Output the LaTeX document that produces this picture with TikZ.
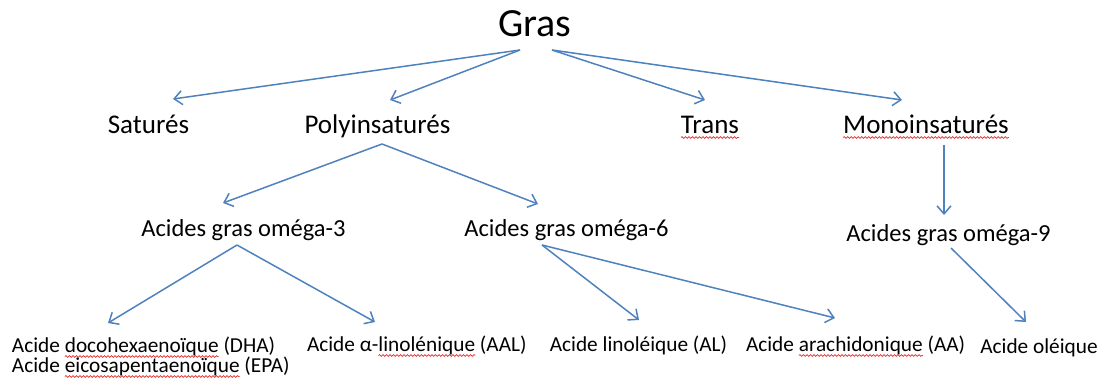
\documentclass[tikz,border=0pt]{standalone}
\usepackage{fontspec}
\setmainfont{Carlito}
\usetikzlibrary{arrows.meta,decorations.pathmorphing}
\definecolor{arrowblue}{RGB}{79,129,189}
\definecolor{squigred}{RGB}{225,45,45}
\tikzset{
  lbl/.style={inner sep=0pt,outer sep=0pt,anchor=base},
  toplbl/.style={lbl,font=\fontsize{40}{44}\selectfont},
  lone/.style={lbl,font=\fontsize{27}{30}\selectfont},
  ltwo/.style={lbl,font=\fontsize{24.5}{28}\selectfont},
  lthree/.style={lbl,font=\fontsize{21.3}{24}\selectfont},
  link/.style={draw=arrowblue,line width=1.5pt,-{Straight Barb[length=8pt,width=14pt]}},
  squig/.style={draw=squigred,line width=0.7pt,decorate,decoration={snake,amplitude=0.9pt,segment length=3.5pt}}
}
\begin{document}
\begin{tikzpicture}[x=1pt,y=-1pt]
\useasboundingbox (0,0) rectangle (1103,383);
% level 0
\node[toplbl] (gras) at (535,36) {Gras};
% level 1
\node[lone] (sat) at (148.5,133) {Saturés};
\node[lone] (poly) at (377.5,133) {Polyinsaturés};
\node[lone] (trans) at (710,133) {Trans};
\node[lone] (mono) at (926,133) {Monoinsaturés};
% level 2
\node[ltwo] (o3) at (243.5,236) {Acides gras oméga-3};
\node[ltwo] (o6) at (566.5,236) {Acides gras oméga-6};
\node[ltwo] (o9) at (948.5,241) {Acides gras oméga-9};
% level 3
\node[lthree,anchor=base west] (dhaA) at (12,352) {Acide\ \mbox{}};
\node[lthree,anchor=base west] (dhaB) at (dhaA.base east) {docohexaenoïque};
\node[lthree,anchor=base west] (dhaC) at (dhaB.base east) {\ (DHA)};
\node[lthree,anchor=base west] (epaA) at (12,372) {Acide\ \mbox{}};
\node[lthree,anchor=base west] (epaB) at (epaA.base east) {eicosapentaenoïque};
\node[lthree,anchor=base west] (epaC) at (epaB.base east) {\ (EPA)};
\node[lthree,anchor=base west] (aalA) at (307,351) {Acide α-};
\node[lthree,anchor=base west] (aalB) at (aalA.base east) {linolénique};
\node[lthree,anchor=base west] (aalC) at (aalB.base east) {\ (AAL)};
\node[lthree] (al) at (638.5,351) {Acide linoléique (AL)};
\node[lthree,anchor=base west] (aaA) at (746,351) {Acide\ \mbox{}};
\node[lthree,anchor=base west] (aaB) at (aaA.base east) {arachidonique};
\node[lthree,anchor=base west] (aaC) at (aaB.base east) {\ (AA)};
\node[lthree] (ol) at (1039,353) {Acide oléique};
% spell-check underlines
\foreach \n in {trans,mono,dhaB,epaB,aalB,aaB}
  \draw[squig] ([shift={(0,4.5)}]\n.base west) -- ([shift={(0,4.5)}]\n.base east);
% connectors
\draw[link] ([shift={(-15,14)}]gras.base) -- ([shift={(24.5,-34)}]sat.base);
\draw[link] ([shift={(-15,14)}]gras.base) -- ([shift={(12.5,-33)}]poly.base);
\draw[link] ([shift={(17,14)}]gras.base) -- ([shift={(-5,-33)}]trans.base);
\draw[link] ([shift={(17,14)}]gras.base) -- ([shift={(-24,-33)}]mono.base);
\draw[link] ([shift={(4.5,11)}]poly.base) -- ([shift={(-20.5,-33)}]o3.base);
\draw[link] ([shift={(4.5,11)}]poly.base) -- ([shift={(-28.5,-32)}]o6.base);
\draw[link] ([shift={(18,12)}]mono.base) -- ([shift={(-4.5,-26)}]o9.base);
\draw[link] ([shift={(-6.5,9)}]o3.base) -- ([shift={(96,-29)}]dhaA.base west);
\draw[link] ([shift={(-6.5,9)}]o3.base) -- ([shift={(68,-29)}]aalA.base west);
\draw[link] ([shift={(-24.5,9)}]o6.base) -- ([shift={(0.5,-31)}]al.base);
\draw[link] ([shift={(-24.5,9)}]o6.base) -- ([shift={(89,-33)}]aaA.base west);
\draw[link] ([shift={(2.5,7)}]o9.base) -- ([shift={(-13,-31)}]ol.base);
\end{tikzpicture}
\end{document}
